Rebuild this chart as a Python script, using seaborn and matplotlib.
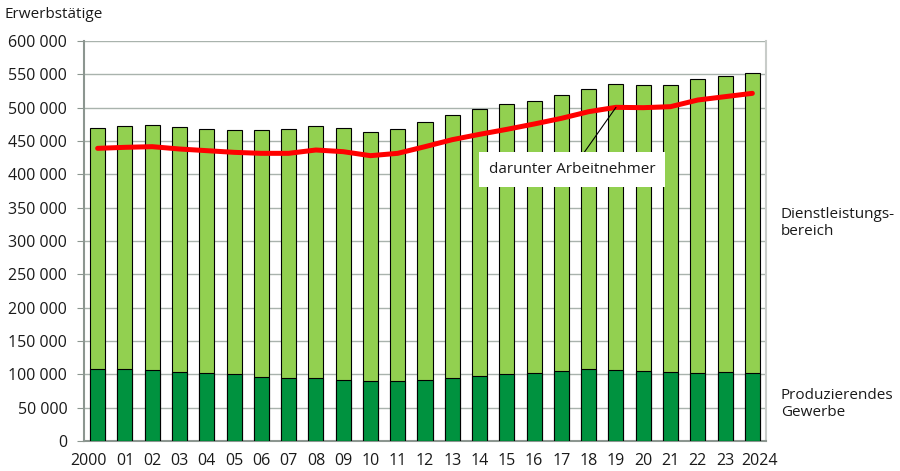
import numpy as np
import pandas as pd
import seaborn as sns
import matplotlib.pyplot as plt
import matplotlib.transforms as mtransforms
from matplotlib.ticker import FuncFormatter

years = ['2000', '01', '02', '03', '04', '05', '06', '07', '08', '09', '10', '11', '12',
         '13', '14', '15', '16', '17', '18', '19', '20', '21', '22', '23', '2024']

# Erwerbstaetige insgesamt
total = [469500, 472000, 473500, 470500, 468500, 467000, 466500, 467500, 473000, 470000,
         464000, 468500, 478500, 489500, 497500, 505000, 510500, 518500, 528000, 535000,
         533500, 533500, 542500, 548000, 552000]
# Produzierendes Gewerbe
produz = [107500, 108000, 106500, 103500, 101500, 100000, 96500, 94000, 94500, 92000,
          89500, 90000, 92000, 95000, 98000, 101000, 102500, 105500, 107500, 106500,
          105000, 104000, 102000, 103000, 102000]
# darunter Arbeitnehmer
arbeitn = [439000, 440500, 441500, 438000, 435500, 433000, 431500, 431500, 436500, 434000,
           428000, 431500, 441500, 452000, 460000, 467500, 475500, 484000, 494000, 500500,
           500000, 501500, 511500, 516500, 521500]

light = '#92D050'
dark = '#00923F'
grid_c = '#A9B3AD'
txt_c = '#1a1a1a'

sns.set_style('white')
plt.rcParams['font.family'] = ['Open Sans', 'DejaVu Sans']

df = pd.DataFrame({'year': years, 'total': total, 'produz': produz, 'arbeitn': arbeitn})

fig = plt.figure(figsize=(9, 4.71), dpi=100)
ax = fig.add_axes([84 / 900, 1 - 441 / 471, (766 - 84) / 900, 400 / 471])

sns.barplot(data=df, x='year', y='total', color=light, width=0.55, saturation=1,
            edgecolor='black', linewidth=0.8, ax=ax, zorder=2)
sns.barplot(data=df, x='year', y='produz', color=dark, width=0.55, saturation=1,
            edgecolor='black', linewidth=0.8, ax=ax, zorder=3)
sns.lineplot(x=np.arange(len(years)), y=df['arbeitn'], color='#FF0000', linewidth=3.6,
             ax=ax, zorder=4)

ax.set_xlim(-0.5, len(years) - 0.5)
ax.set_ylim(0, 600000)
ax.set_yticks(np.arange(0, 600001, 50000))
ax.yaxis.set_major_formatter(FuncFormatter(lambda v, p: f'{int(v):,}'.replace(',', ' ')))
ax.grid(axis='y', color=grid_c, linewidth=1, zorder=0)
ax.set_axisbelow(True)
ax.set_xlabel('')
ax.set_ylabel('')
ax.tick_params(axis='y', left=True, length=5, color='#8C9690', labelsize=11.5,
               labelcolor=txt_c, pad=7)
ax.tick_params(axis='x', bottom=False, labelsize=11.5, labelcolor=txt_c, pad=5)
for s in ['left', 'bottom']:
    ax.spines[s].set_color('#8C9690')
    ax.spines[s].set_linewidth(1.5)
ax.spines['right'].set_color('#C8CCC9')
ax.spines['right'].set_linewidth(1.5)
ax.spines['top'].set_visible(False)

# first and last year labels are pushed outwards like in the original
xlabels = ax.get_xticklabels()
xlabels[0].set_transform(xlabels[0].get_transform() +
                         mtransforms.ScaledTranslation(-9 / 100, 0, fig.dpi_scale_trans))
xlabels[-1].set_transform(xlabels[-1].get_transform() +
                          mtransforms.ScaledTranslation(7 / 100, 0, fig.dpi_scale_trans))

# annotation for the line
ax.annotate('darunter Arbeitnehmer', xy=(19, arbeitn[19]), xytext=(17.39, 407000),
            ha='center', va='center', fontsize=11, color=txt_c,
            bbox=dict(boxstyle='square,pad=0.65', fc='white', ec='none'),
            arrowprops=dict(arrowstyle='-', color='black', lw=0.8,
                            shrinkA=0, shrinkB=0), zorder=5)

fig.text(5 / 900, 1 - 15 / 471, 'Erwerbstätige', fontsize=11, color=txt_c,
         va='center', ha='left')
fig.text(781 / 900, 1 - 223 / 471, 'Dienstleistungs-\nbereich', fontsize=11,
         color=txt_c, va='center', ha='left', linespacing=1.15)
fig.text(781 / 900, 1 - 404 / 471, 'Produzierendes\nGewerbe', fontsize=11,
         color=txt_c, va='center', ha='left', linespacing=1.15)

fig.savefig('out.png', dpi=100)
